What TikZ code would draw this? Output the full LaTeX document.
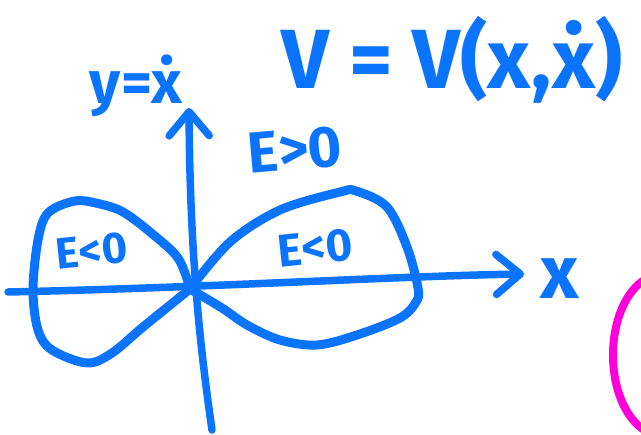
\documentclass[tikz,border=0pt]{standalone}
\usepackage{fontspec}
\setmainfont{Fira Sans}
\usetikzlibrary{arrows.meta}
\definecolor{paper}{HTML}{FFFFFF}
\definecolor{penBlue}{HTML}{0A74FF}
\definecolor{penPink}{HTML}{FF00DC}

\begin{document}
\begin{tikzpicture}[x=1pt, y=-1pt, line cap=round, line join=round,
    pen/.style={draw=penBlue, line width=9pt},
    axis/.style={draw=penBlue, line width=7.5pt, -{Straight Barb[round, length=24pt, width=40pt]}},
    lab/.style={text=penBlue, inner sep=0pt, font=\fontsize{#1}{#1}\selectfont\bfseries}]
  % canvas (same size as the sketch)
  \useasboundingbox (0,0) rectangle (641,435);
  \fill[paper] (0,0) rectangle (641,435);

  % ---------------- labels
  \node[lab=84] (vfun) at (452,60) {V = V(x,\.{x})};
  \node[lab=60] (ylab) at (136,86) {y=\.{x}};
  \node[lab=58, rotate=5] (epos) at (295,150) {E>0};
  \node[lab=44, rotate=6] (eneg1) at (92,251) {E<0};
  \node[lab=46, rotate=6] (eneg2) at (315,248) {E<0};
  \node[lab=75] (xlab) at (560,279) {x};

  % ---------------- axes
  \coordinate (o) at (190,289);
  \coordinate (xl) at (8,292);
  \coordinate (xr) at (524,274);
  \coordinate (yb) at (212,430);
  \coordinate (yt) at (189,108);
  \draw[axis] (xl) .. controls (200,288) and (400,276) .. (xr);
  \draw[axis] (yb) .. controls (199,340) and (190,250) .. (yt);

  % ---------------- level curves through the origin
  \draw[pen] plot[smooth, tension=0.55] coordinates {(190,289) (178,258) (150,232) (123,212) (100,204) (75,201)
    (48,213) (38,240) (33,290) (38,330) (52,350) (87,363) (112,353) (143,327) (190,289)};
  \draw[pen] plot[smooth, tension=0.55] coordinates {(190,289) (230,242) (280,210) (340,192) (356,191) (387,207)
    (407,247) (418,288) (416,302) (400,318) (357,335) (317,345) (280,340) (247,325) (222,308) (190,289)};

  % ---------------- pink curve cut by the right edge
  \begin{scope}
    \clip (0,0) rectangle (641,435);
    \draw[draw=penPink, line width=8pt] (661,355) ellipse [x radius=48, y radius=80];
  \end{scope}
\end{tikzpicture}
\end{document}
